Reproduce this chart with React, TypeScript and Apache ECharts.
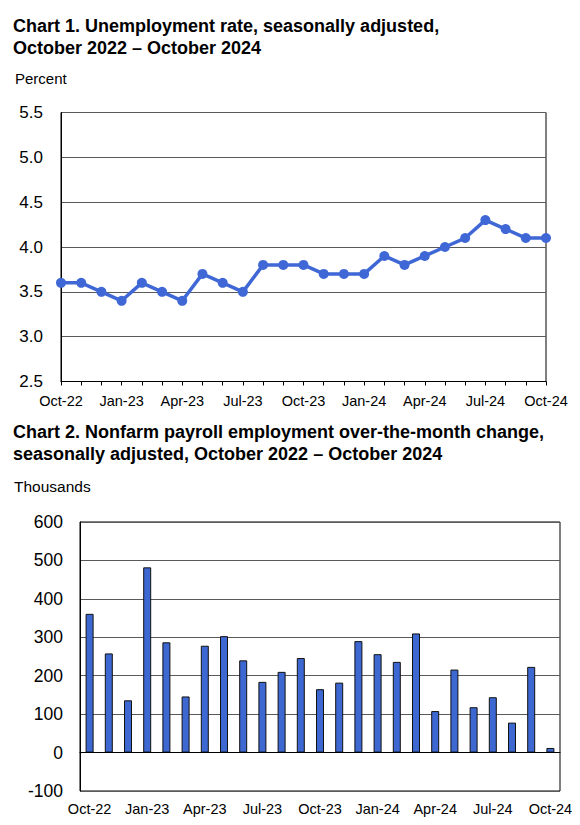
import React, { useEffect, useRef } from "react";
import * as echarts from "echarts";

const months = [
  "Oct-22", "Nov-22", "Dec-22", "Jan-23", "Feb-23", "Mar-23", "Apr-23", "May-23", "Jun-23",
  "Jul-23", "Aug-23", "Sep-23", "Oct-23", "Nov-23", "Dec-23", "Jan-24", "Feb-24", "Mar-24",
  "Apr-24", "May-24", "Jun-24", "Jul-24", "Aug-24", "Sep-24", "Oct-24",
];

const unemploymentRate = [
  3.6, 3.6, 3.5, 3.4, 3.6, 3.5, 3.4, 3.7, 3.6, 3.5, 3.8, 3.8, 3.8, 3.7, 3.7, 3.7, 3.9, 3.8,
  3.9, 4.0, 4.1, 4.3, 4.2, 4.1, 4.1,
];

const payrollChange = [
  361, 258, 136, 482, 287, 146, 278, 303, 240, 184, 210, 246, 165, 182, 290, 256, 236, 310,
  108, 216, 118, 144, 78, 223, 12,
];

const title1 = "Chart 1. Unemployment rate, seasonally adjusted,\nOctober 2022 – October 2024";
const title2 = "Chart 2. Nonfarm payroll employment over-the-month change,\nseasonally adjusted, October 2022 – October 2024";
const unit1 = "Percent";
const unit2 = "Thousands";

const FONT = "'Liberation Sans', Arial, sans-serif";

export default function App() {
  const ref = useRef<HTMLDivElement>(null);

  useEffect(() => {
    if (!ref.current) return;
    const chart = echarts.init(ref.current, undefined, { renderer: "svg" });
    const blue = "#3F68D6";
    const gridLine = { show: true, lineStyle: { color: "#5a5a5a", width: 1 } };
    chart.setOption({
      animation: false,
      backgroundColor: "#ffffff",
      textStyle: { fontFamily: FONT },
      title: [
        {
          text: title1,
          left: 13,
          top: 15,
          padding: 0,
          textStyle: { fontFamily: FONT, fontWeight: "bold", fontSize: 18, lineHeight: 22, color: "#000" },
        },
        {
          text: title2,
          left: 13,
          top: 421,
          padding: 0,
          textStyle: { fontFamily: FONT, fontWeight: "bold", fontSize: 18, lineHeight: 22, color: "#000" },
        },
      ],
      graphic: [
        {
          type: "text",
          left: 15,
          top: 71,
          style: { text: unit1, fontFamily: FONT, fontSize: 15, fill: "#000" },
        },
        {
          type: "text",
          left: 14,
          top: 478,
          style: { text: unit2, fontFamily: FONT, fontSize: 15.5, fill: "#000" },
        },
      ],
      grid: [
        { left: 61, top: 112.5, width: 485, height: 269, show: true, borderColor: "#000", borderWidth: 1, backgroundColor: "transparent" },
        { left: 80, top: 522, width: 480, height: 269, show: true, borderColor: "#000", borderWidth: 1, backgroundColor: "transparent" },
      ],
      xAxis: [
        {
          type: "category",
          gridIndex: 0,
          data: months,
          boundaryGap: false,
          axisLine: { show: true, lineStyle: { color: "#000", width: 1 } },
          axisTick: { show: true, interval: 0, length: 4, lineStyle: { color: "#000" } },
          axisLabel: { interval: 2, margin: 12, fontSize: 14.5, color: "#000", fontFamily: FONT },
          splitLine: { show: false },
        },
        {
          type: "category",
          gridIndex: 1,
          data: months,
          boundaryGap: true,
          axisLine: { show: true, lineStyle: { color: "#000", width: 1 } },
          axisTick: { show: false },
          axisLabel: { interval: 2, margin: 10, fontSize: 14.5, color: "#000", fontFamily: FONT },
          splitLine: { show: false },
        },
      ],
      yAxis: [
        {
          type: "value",
          gridIndex: 0,
          min: 2.5,
          max: 5.5,
          interval: 0.5,
          axisLine: { show: true, lineStyle: { color: "#000" } },
          axisTick: { show: false },
          axisLabel: {
            margin: 18,
            fontSize: 17,
            color: "#000",
            fontFamily: FONT,
            formatter: (v: number) => v.toFixed(1),
          },
          splitLine: gridLine,
        },
        {
          type: "value",
          gridIndex: 1,
          min: -100,
          max: 600,
          interval: 100,
          axisLine: { show: true, lineStyle: { color: "#000" } },
          axisTick: { show: false },
          axisLabel: { margin: 17, fontSize: 17.5, color: "#000", fontFamily: FONT },
          splitLine: gridLine,
        },
      ],
      series: [
        {
          type: "line",
          xAxisIndex: 0,
          yAxisIndex: 0,
          data: unemploymentRate,
          symbol: "circle",
          symbolSize: 10,
          lineStyle: { color: blue, width: 3.5 },
          itemStyle: { color: blue },
        },
        {
          type: "bar",
          xAxisIndex: 1,
          yAxisIndex: 1,
          data: payrollChange,
          barWidth: 8,
          itemStyle: {
            color: "#3D67D1",
            borderColor: "#111",
            borderWidth: 1,
          },
          markLine: {
            silent: true,
            symbol: "none",
            label: { show: false },
            lineStyle: { color: "#000", width: 1.2, type: "solid" },
            data: [{ yAxis: 0 }],
          },
        },
      ],
    });
    return () => chart.dispose();
  }, []);

  return (
    <div
      ref={ref}
      style={{ position: "absolute", left: 0, top: 0, width: 580, height: 825 }}
    />
  );
}
